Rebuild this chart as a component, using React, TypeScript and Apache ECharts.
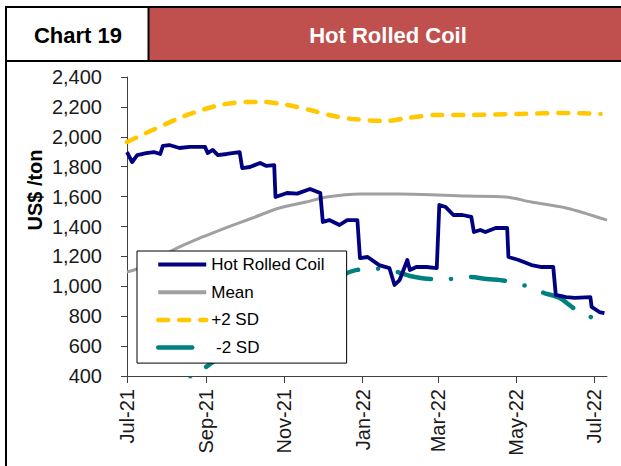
import React, { useEffect, useRef } from 'react';
import * as echarts from 'echarts';

const hrcDates = [
  '2021-07-01', '2021-07-05', '2021-07-09', '2021-07-16', '2021-07-22', '2021-07-27', '2021-07-29',
  '2021-08-03', '2021-08-11', '2021-08-19', '2021-08-31', '2021-09-02', '2021-09-06', '2021-09-10',
  '2021-09-17', '2021-09-27', '2021-09-29', '2021-10-05', '2021-10-13', '2021-10-18', '2021-10-24',
  '2021-10-25', '2021-11-03', '2021-11-11', '2021-11-21', '2021-11-29', '2021-12-01', '2021-12-06',
  '2021-12-14', '2021-12-20', '2021-12-28', '2021-12-30', '2022-01-05', '2022-01-14', '2022-01-22',
  '2022-01-26', '2022-01-30', '2022-02-05', '2022-02-07', '2022-02-12', '2022-02-20', '2022-02-28',
  '2022-03-02', '2022-03-07', '2022-03-13', '2022-03-20', '2022-03-27', '2022-03-29', '2022-04-03',
  '2022-04-07', '2022-04-15', '2022-04-24', '2022-04-25', '2022-05-03', '2022-05-13', '2022-05-21',
  '2022-05-30', '2022-06-01', '2022-06-09', '2022-06-16', '2022-06-28', '2022-06-29', '2022-07-05',
  '2022-07-09',
];
const hrcValues = [
  1898, 1831, 1878, 1891, 1898, 1885, 1939,
  1945, 1925, 1932, 1932, 1891, 1912, 1878,
  1885, 1898, 1791, 1798, 1825, 1805, 1811,
  1597, 1624, 1620, 1651, 1624, 1430, 1443,
  1410, 1443, 1443, 1189, 1196, 1142, 1122,
  1009, 1042, 1176, 1109, 1129, 1129, 1122,
  1544, 1530, 1477, 1477, 1464, 1363, 1377,
  1363, 1390, 1390, 1196, 1176, 1142, 1129,
  1129, 942, 928, 922, 928, 862, 828,
  821,
];

const meanDates = [
  '2021-07-01', '2021-07-09', '2021-07-25', '2021-08-06', '2021-08-29', '2021-09-12', '2021-10-07',
  '2021-10-28', '2021-11-18', '2021-12-04', '2021-12-30', '2022-01-30', '2022-03-23', '2022-04-23',
  '2022-05-13', '2022-06-09', '2022-07-11',
];
const meanValues = [
  1096, 1116, 1180, 1243, 1330, 1377, 1457,
  1524, 1564, 1597, 1617, 1617, 1604, 1597,
  1564, 1524, 1443,
];

const plusDates = [
  '2021-07-01', '2021-07-21', '2021-08-17', '2021-09-12', '2021-10-03', '2021-10-15', '2021-11-03',
  '2021-11-21', '2021-12-06', '2021-12-24', '2022-01-20', '2022-02-05', '2022-02-28', '2022-03-26',
  '2022-05-03', '2022-06-11', '2022-07-06',
];
const plusValues = [
  1965, 2045, 2146, 2213, 2233, 2233, 2213,
  2179, 2146, 2119, 2106, 2126, 2146, 2146,
  2153, 2159, 2153,
];

const minusDates = [
  '2021-07-01', '2021-07-21', '2021-08-10', '2021-08-24', '2021-09-05', '2021-09-25', '2021-10-15',
  '2021-11-05', '2021-11-25', '2021-12-20', '2021-12-28', '2022-01-12', '2022-01-28', '2022-02-07',
  '2022-02-23', '2022-03-10', '2022-03-26', '2022-04-08', '2022-04-23', '2022-05-09', '2022-05-23',
  '2022-06-04', '2022-06-16', '2022-06-30',
];
const minusValues = [
  200, 260, 320, 412, 487, 610, 760,
  900, 1000, 1089, 1110, 1118, 1096, 1069,
  1049, 1049, 1062, 1049, 1036, 1002, 955,
  922, 848, 788,
];

const xTickDates = ['2021-07-01', '2021-09-01', '2021-11-01', '2022-01-01', '2022-03-01', '2022-05-01', '2022-07-01'];
const xTickLabels = ['Jul-21', 'Sep-21', 'Nov-21', 'Jan-22', 'Mar-22', 'May-22', 'Jul-22'];
const xStart = '2021-07-01';
const xEnd = '2022-07-11';
const yMin = 400;
const yMax = 2400;
const yStep = 200;

const FONT = "'Liberation Sans', Arial, sans-serif";

// day number since xStart (UTC based, no DST issues)
function dayNum(s: string): number {
  const [y, m, d] = s.split('-').map(Number);
  const [y0, m0, d0] = xStart.split('-').map(Number);
  return Math.round((Date.UTC(y, m - 1, d) - Date.UTC(y0, m0 - 1, d0)) / 86400000);
}

function pairs(dates: string[], values: number[]) {
  return dates.map((d, i) => [dayNum(d), values[i]]);
}

export default function App() {
  const ref = useRef<HTMLDivElement>(null);

  useEffect(() => {
    if (!ref.current) return;
    const chart = echarts.init(ref.current, undefined, { renderer: 'svg' });
    const tickVals = xTickDates.map(dayNum);

    chart.setOption({
      animation: false,
      textStyle: { fontFamily: FONT },
      grid: { left: 127, right: 14, top: 77, bottom: 90, containLabel: false },
      xAxis: {
        type: 'value',
        min: dayNum(xStart),
        max: dayNum(xEnd),
        splitLine: { show: false },
        axisLine: { lineStyle: { color: '#404040', width: 1 } },
        axisTick: { show: true, length: 7, customValues: tickVals, lineStyle: { color: '#404040' } },
        axisLabel: {
          customValues: tickVals,
          rotate: 90,
          margin: 13,
          fontSize: 20,
          color: '#1a1a1a',
          fontFamily: FONT,
          formatter: (v: number) => {
            const i = tickVals.indexOf(v);
            return i >= 0 ? xTickLabels[i] : '';
          },
        },
      },
      yAxis: {
        type: 'value',
        min: yMin,
        max: yMax,
        interval: yStep,
        splitLine: { show: false },
        axisLine: { show: true, lineStyle: { color: '#404040', width: 1 } },
        axisTick: { show: true, length: 6, lineStyle: { color: '#404040' } },
        axisLabel: {
          margin: 25,
          fontSize: 20,
          color: '#1a1a1a',
          fontFamily: FONT,
          formatter: (v: number) => v.toLocaleString('en-US'),
        },
      },
      legend: {
        orient: 'vertical',
        left: 137,
        top: 251,
        itemWidth: 48,
        itemHeight: 14,
        itemGap: 10.7,
        padding: [5, 22, 7, 19],
        backgroundColor: '#fff',
        borderColor: '#000',
        borderWidth: 1,
        borderRadius: 0,
        itemStyle: { opacity: 0 },
        lineStyle: { width: 4.2 },
        textStyle: { fontSize: 17, color: '#000', fontFamily: FONT },
        data: [
          { name: 'Hot Rolled Coil', lineStyle: { width: 4.2 } },
          { name: 'Mean', lineStyle: { width: 4 } },
          { name: '+2 SD', lineStyle: { width: 4.5 } },
          { name: '-2 SD', lineStyle: { width: 4.5, dashOffset: 0 } },
        ],
        formatter: (name: string) => (name === '-2 SD' ? ' -2 SD' : name),
      },
      series: [
        {
          name: 'Mean',
          type: 'line',
          data: pairs(meanDates, meanValues),
          smooth: 0.3,
          symbol: 'none',
          lineStyle: { color: '#A0A0A0', width: 3 },
          itemStyle: { color: '#A0A0A0' },
          z: 2,
        },
        {
          name: '+2 SD',
          type: 'line',
          data: pairs(plusDates, plusValues),
          smooth: 0.3,
          symbol: 'none',
          lineStyle: { color: '#FFC800', width: 4.5, type: [10, 11], cap: 'round' },
          itemStyle: { color: '#FFC800' },
          z: 2,
        },
        {
          name: '-2 SD',
          type: 'line',
          data: pairs(minusDates, minusValues),
          smooth: 0.3,
          symbol: 'none',
          clip: true,
          lineStyle: { color: '#008080', width: 4.5, type: [34, 20, 0.1, 20], dashOffset: 59, cap: 'round' },
          itemStyle: { color: '#008080' },
          z: 2,
        },
        {
          name: 'Hot Rolled Coil',
          type: 'line',
          data: pairs(hrcDates, hrcValues),
          symbol: 'none',
          lineStyle: { color: '#000080', width: 3.8, join: 'round' },
          itemStyle: { color: '#000080' },
          z: 3,
        },
      ],
      graphic: [
        { type: 'rect', z: 10, shape: { x: 149, y: 7, width: 472, height: 53 }, style: { fill: '#C0504D' } },
        { type: 'line', z: 11, shape: { x1: 5, y1: 7, x2: 621, y2: 7 }, style: { stroke: '#000', lineWidth: 2 } },
        { type: 'line', z: 11, shape: { x1: 5, y1: 61, x2: 621, y2: 61 }, style: { stroke: '#000', lineWidth: 2 } },
        { type: 'line', z: 11, shape: { x1: 6, y1: 6, x2: 6, y2: 466 }, style: { stroke: '#000', lineWidth: 2 } },
        { type: 'line', z: 11, shape: { x1: 148.5, y1: 6, x2: 148.5, y2: 62 }, style: { stroke: '#000', lineWidth: 2 } },
        {
          type: 'text', z: 12, x: 78, y: 35,
          style: { text: 'Chart 19', font: `bold 22px ${FONT}`, fill: '#000', textAlign: 'center', textVerticalAlign: 'middle' },
        },
        {
          type: 'text', z: 12, x: 388, y: 35,
          style: { text: 'Hot Rolled Coil', font: `bold 22px ${FONT}`, fill: '#fff', textAlign: 'center', textVerticalAlign: 'middle' },
        },
        {
          type: 'text', z: 12, x: 35, y: 190, rotation: Math.PI / 2,
          style: { text: 'US$ /ton', font: `bold 20px ${FONT}`, fill: '#000', textAlign: 'center', textVerticalAlign: 'middle' },
        },
      ],
    });

    return () => chart.dispose();
  }, []);

  return (
    <div
      ref={ref}
      style={{ position: 'fixed', left: 0, top: 0, width: 621, height: 466, background: '#fff' }}
    />
  );
}
